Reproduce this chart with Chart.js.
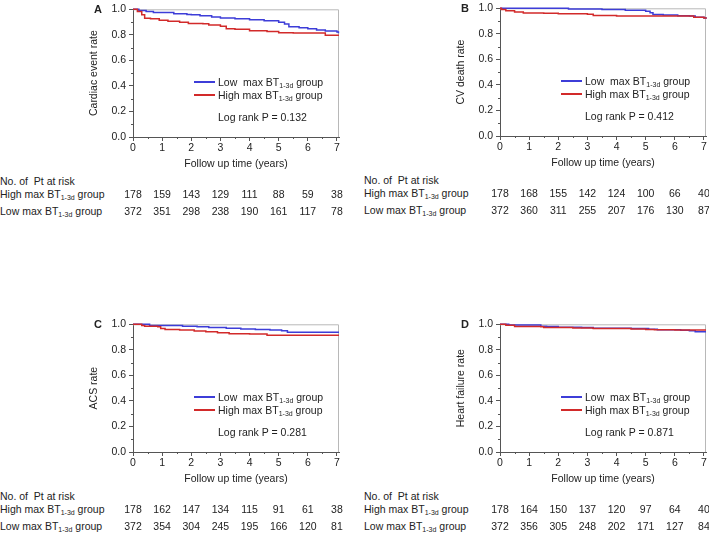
<!DOCTYPE html>
<html>
<head>
<meta charset="utf-8">
<script src="https://cdn.jsdelivr.net/npm/chart.js@4.4.1/dist/chart.umd.min.js"></script>
<style>
  html, body { margin: 0; padding: 0; background: #fff; }
  body { width: 709px; height: 534px; position: relative; overflow: hidden;
         font-family: "Liberation Sans", Arial, sans-serif; font-size: 10.5px; color: #222; }
  canvas { position: absolute; }
  .txt { position: absolute; white-space: nowrap; line-height: 12px; }
  .txt sub { font-size: 7px; vertical-align: -2px; line-height: 0; }
  .letter { font-weight: bold; font-size: 11px; }
  .key { position: absolute; height: 2px; width: 21px; }
  .num { transform: translateX(-50%); }
</style>
</head>
<body>
<script>
// ── Data ───────────────────────────────────────────────────────────────
const years = [0, 1, 2, 3, 4, 5, 6, 7];

// A — cardiac event
const aLowT  = [0, 0.2, 0.45, 0.7, 1.4, 1.85, 2.0, 2.3, 2.7, 3.0, 3.5, 4.0, 4.5, 5.0, 5.2, 5.35, 5.7, 6.0, 6.3, 6.6, 7.0, 7.05];
const aLowS  = [1, 0.99, 0.982, 0.975, 0.965, 0.96, 0.957, 0.95, 0.94, 0.932, 0.926, 0.919, 0.911, 0.898, 0.885, 0.863, 0.855, 0.848, 0.838, 0.83, 0.822, 0.812];
const aHighT = [0, 0.15, 0.3, 0.4, 0.6, 0.9, 1.2, 1.6, 1.9, 2.4, 2.6, 3.0, 3.2, 3.5, 4.0, 4.6, 5.0, 5.5, 6.6, 7.07];
const aHighS = [1, 0.982, 0.957, 0.93, 0.926, 0.914, 0.906, 0.898, 0.888, 0.886, 0.878, 0.868, 0.848, 0.843, 0.832, 0.827, 0.817, 0.815, 0.797, 0.797];
const aRiskHigh = [178, 159, 143, 129, 111, 88, 59, 38];
const aRiskLow  = [372, 351, 298, 238, 190, 161, 117, 78];

// B — CV death
const bLowT  = [0, 2.35, 3.5, 4.3, 5.0, 5.15, 5.25, 5.6, 6.1, 6.5, 6.7, 7.0, 7.07];
const bLowS  = [1, 0.995, 0.99, 0.985, 0.977, 0.965, 0.952, 0.947, 0.941, 0.939, 0.929, 0.924, 0.919];
const bHighT = [0, 0.05, 0.2, 0.5, 0.8, 1.5, 2.0, 3.0, 3.2, 4.0, 6.65, 7.0, 7.07];
const bHighS = [1, 0.99, 0.98, 0.972, 0.964, 0.962, 0.957, 0.954, 0.944, 0.939, 0.929, 0.924, 0.919];
const bRiskHigh = [178, 168, 155, 142, 124, 100, 66, 40];
const bRiskLow  = [372, 360, 311, 255, 207, 176, 130, 87];

// C — ACS
const cLowT  = [0, 0.57, 1.7, 2.2, 2.6, 3.2, 3.7, 4.2, 4.7, 5.1, 5.3, 7.07];
const cLowS  = [1, 0.99, 0.985, 0.98, 0.975, 0.97, 0.964, 0.96, 0.955, 0.95, 0.938, 0.938];
const cHighT = [0, 0.3, 0.4, 0.85, 0.95, 1.1, 1.6, 2.1, 2.5, 2.9, 3.3, 4.0, 4.6, 7.07];
const cHighS = [1, 0.99, 0.985, 0.98, 0.967, 0.96, 0.955, 0.947, 0.942, 0.934, 0.926, 0.924, 0.914, 0.914];
const cRiskHigh = [178, 162, 147, 134, 115, 91, 61, 38];
const cRiskLow  = [372, 354, 304, 245, 195, 166, 120, 81];

// D — heart failure
const dLowT  = [0, 0.3, 1.4, 1.6, 2.0, 2.8, 3.2, 4.5, 5.1, 5.4, 6.2, 6.5, 6.7, 7.07];
const dLowS  = [1, 0.994, 0.985, 0.982, 0.977, 0.975, 0.97, 0.967, 0.962, 0.957, 0.954, 0.949, 0.941, 0.941];
const dHighT = [0, 0.2, 0.5, 1.4, 1.5, 2.5, 3.2, 4.5, 5.0, 5.3, 6.0, 7.07];
const dHighS = [1, 0.992, 0.982, 0.98, 0.975, 0.972, 0.967, 0.964, 0.96, 0.957, 0.955, 0.955];
const dRiskHigh = [178, 164, 150, 137, 120, 97, 64, 40];
const dRiskLow  = [372, 356, 305, 248, 202, 171, 127, 84];

const BLUE = '#3d3dd8';
const RED  = '#d22a2a';
const FONT = { family: '"Liberation Sans", Arial, sans-serif', size: 10.5 };

// ── Layout of the four panels ──────────────────────────────────────────
const panels = [
  { letter: 'A', yTitle: 'Cardiac event rate', p: '0.132', left: 133, top: 6,   tableLeft: 0,
    low: [aLowT, aLowS], high: [aHighT, aHighS], risk: [aRiskHigh, aRiskLow] },
  { letter: 'B', yTitle: 'CV death rate',      p: '0.412', left: 500, top: 5,   tableLeft: 364,
    low: [bLowT, bLowS], high: [bHighT, bHighS], risk: [bRiskHigh, bRiskLow] },
  { letter: 'C', yTitle: 'ACS rate',           p: '0.281', left: 133, top: 321, tableLeft: 0,
    low: [cLowT, cLowS], high: [cHighT, cHighS], risk: [cRiskHigh, cRiskLow] },
  { letter: 'D', yTitle: 'Heart failure rate', p: '0.871', left: 500, top: 321, tableLeft: 364,
    low: [dLowT, dLowS], high: [dHighT, dHighS], risk: [dRiskHigh, dRiskLow] },
];

const AXIS_W = 53, AXIS_H = 38, PLOT_W = 206, PLOT_H = 131, PAD_R = 12;

// frame (top/right) + minor ticks
const framePlugin = {
  id: 'frame',
  beforeDatasetsDraw(chart) {
    const { ctx, chartArea: a, scales: { x, y } } = chart;
    ctx.save();
    ctx.lineWidth = 1;
    ctx.strokeStyle = '#b8b8b8';
    ctx.beginPath();
    ctx.moveTo(a.left, a.top + 0.5);
    ctx.lineTo(a.right - 0.5, a.top + 0.5);
    ctx.lineTo(a.right - 0.5, a.bottom);
    ctx.stroke();
    ctx.strokeStyle = '#555';
    ctx.beginPath();
    for (let v = 0.5; v < 7; v += 1) {
      const px = Math.round(x.getPixelForValue(v)) + 0.5;
      ctx.moveTo(px, a.bottom); ctx.lineTo(px, a.bottom + 2);
    }
    for (let v = 0.1; v < 1; v += 0.2) {
      const py = Math.round(y.getPixelForValue(v)) + 0.5;
      ctx.moveTo(a.left - 2, py); ctx.lineTo(a.left, py);
    }
    ctx.stroke();
    ctx.restore();
  }
};

function addText(html, x, y, cls) {
  const d = document.createElement('div');
  d.className = 'txt' + (cls ? ' ' + cls : '');
  d.style.left = x + 'px';
  d.style.top = (y - 6) + 'px';
  d.innerHTML = html;
  document.body.appendChild(d);
  return d;
}

function addKey(color, x, y) {
  const k = document.createElement('div');
  k.className = 'key';
  k.style.left = x + 'px';
  k.style.top = (y - 1) + 'px';
  k.style.background = color;
  document.body.appendChild(k);
}

const BT = 'BT<sub>1-3d</sub>';

panels.forEach(pn => {
  const cv = document.createElement('canvas');
  const cLeft = pn.left - AXIS_W, cTop = pn.top - 6;
  cv.width = AXIS_W + PLOT_W + PAD_R;
  cv.height = 6 + PLOT_H + AXIS_H;
  cv.style.left = cLeft + 'px';
  cv.style.top = cTop + 'px';
  document.body.appendChild(cv);

  const toPts = ([t, s]) => t.map((v, i) => ({ x: v, y: s[i] }));

  const chart = new Chart(cv, {
    type: 'line',
    data: {
      datasets: [
        { label: 'High', data: toPts(pn.high), borderColor: RED,  borderWidth: 1.5, stepped: true, pointRadius: 0, clip: false },
        { label: 'Low',  data: toPts(pn.low),  borderColor: BLUE, borderWidth: 1.5, stepped: true, pointRadius: 0, clip: false },
      ]
    },
    options: {
      responsive: false,
      animation: false,
      devicePixelRatio: 1,
      layout: { padding: { left: 0, top: 6, right: PAD_R, bottom: 0 } },
      plugins: { legend: { display: false }, tooltip: { enabled: false } },
      scales: {
        x: {
          type: 'linear', min: 0, max: 7.07,
          ticks: { stepSize: 1, includeBounds: false, color: '#222', font: FONT, padding: 1, maxRotation: 0 },
          grid: { drawOnChartArea: false, tickLength: 4, color: '#555' },
          border: { color: '#555' },
          title: { display: true, text: 'Follow up time (years)', color: '#222', font: FONT, padding: { top: 0, bottom: 5 } },
          afterFit: s => { s.height = AXIS_H; }
        },
        y: {
          min: 0, max: 1,
          ticks: { stepSize: 0.2, color: '#222', font: FONT, padding: 3, callback: v => v.toFixed(1) },
          grid: { drawOnChartArea: false, tickLength: 4, color: '#555' },
          border: { color: '#555' },
          title: { display: true, text: pn.yTitle, color: '#222', font: FONT, padding: { top: 8, bottom: 0 } },
          afterFit: s => { s.width = AXIS_W; }
        }
      }
    },
    plugins: [framePlugin]
  });

  // panel letter
  addText(pn.letter, pn.left - 39, pn.top + 3, 'letter');

  // legend + log rank
  addKey(BLUE, pn.left + 61, pn.top + 76);
  addKey(RED,  pn.left + 61, pn.top + 89);
  addText('Low&nbsp; max ' + BT + ' group', pn.left + 85, pn.top + 76);
  addText('High max ' + BT + ' group', pn.left + 85, pn.top + 89);
  addText('Log rank P = ' + pn.p, pn.left + 85, pn.top + 111);

  // numbers at risk
  addText('No. of&nbsp; Pt at risk', pn.tableLeft, pn.top + 175);
  addText('High max ' + BT + ' group', pn.tableLeft, pn.top + 188);
  addText('Low max ' + BT + ' group', pn.tableLeft, pn.top + 205);
  const xs = chart.scales.x;
  years.forEach((yr, i) => {
    const px = cLeft + xs.getPixelForValue(yr);
    addText(String(pn.risk[0][i]), px, pn.top + 188, 'num');
    addText(String(pn.risk[1][i]), px, pn.top + 205, 'num');
  });
});
</script>
</body>
</html>
